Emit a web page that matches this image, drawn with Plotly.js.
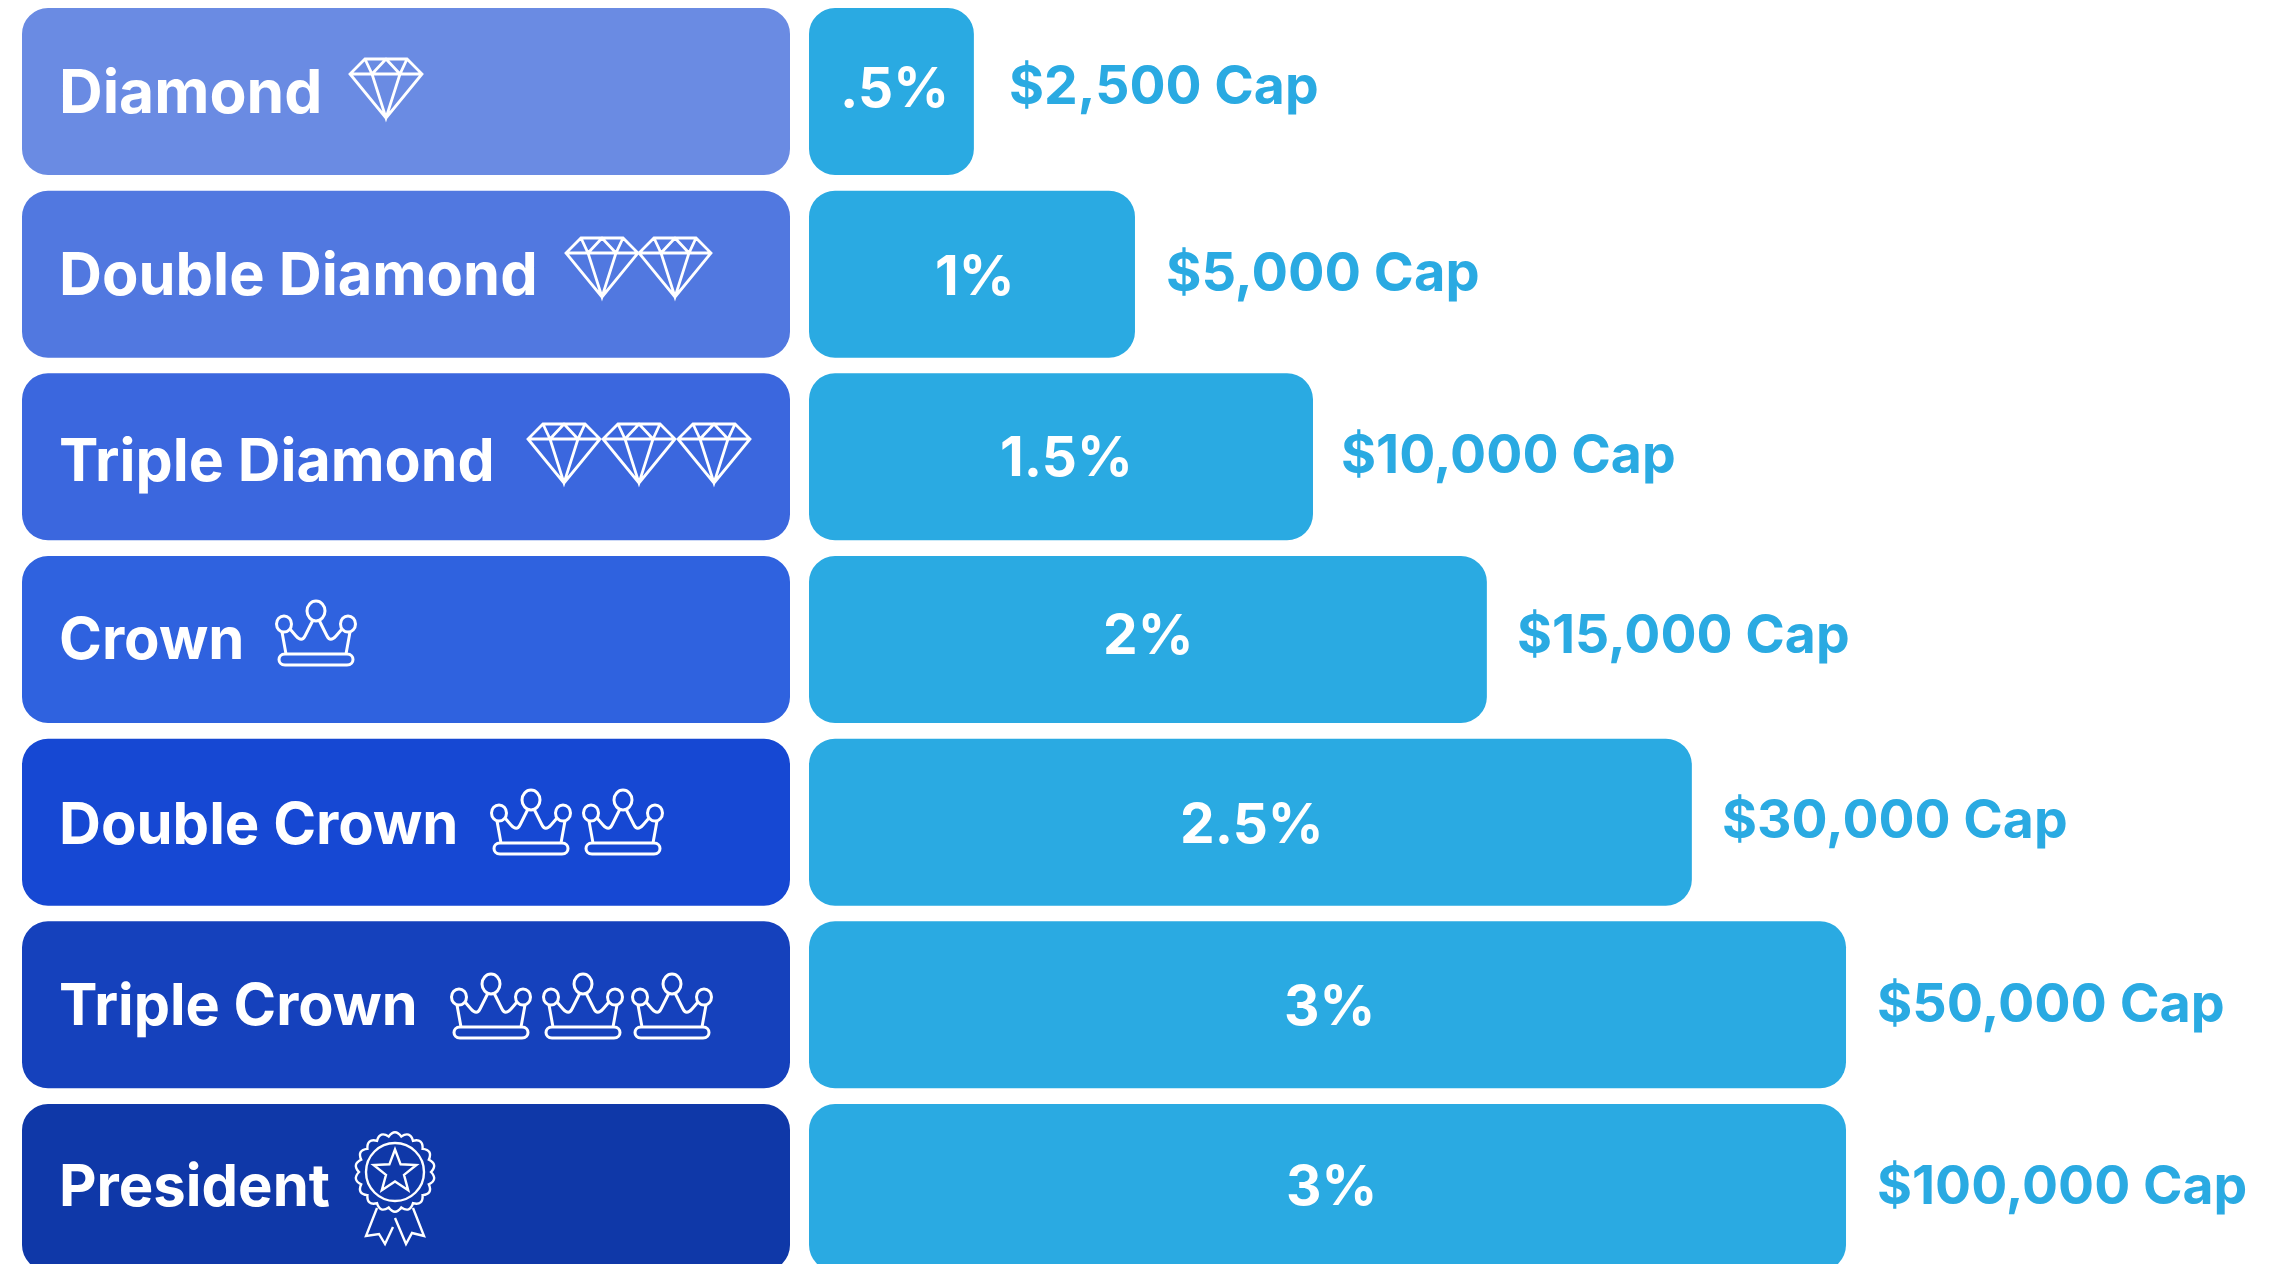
<!DOCTYPE html>
<html><head><meta charset="utf-8">
<script src="https://cdn.plot.ly/plotly-3.0.1.min.js"></script>
<style>html,body{margin:0;padding:0;background:#fff;overflow:hidden}#chart{width:2286px;height:1264px}</style>
</head><body><div id="chart"></div>
<script>
// ---------- data ----------
const tiers = ['Diamond','Double Diamond','Triple Diamond','Crown','Double Crown','Triple Crown','President'];
const rateLabels = ['.5%','1%','1.5%','2%','2.5%','3%','3%'];
const barLengths = [0.477,0.943,1.458,1.961,2.554,3,3];   // drawn length of each rate bar
const capLabels = ['$2,500 Cap','$5,000 Cap','$10,000 Cap','$15,000 Cap','$30,000 Cap','$50,000 Cap','$100,000 Cap'];
const tierColors = ['#6A8BE3','#5178E0','#3B67DE','#2F62DF','#1648D3','#1541BC','#0F38A8'];
const fullBar = [1,1,1,1,1,1,1];
const zeroBase = [0,0,0,0,0,0,0];

// ---------- style ----------
const W = 2286, H = 1264;
const rateColor = '#2AAAE2';
const FONT = 'Inter, "Noto Sans", sans-serif';
const labelSize  = [60.5,59.5,59,58,58,57.6,58];
const labelShift = [1,1.5,-2.5,2,-1,0.5,3];
const rateDx     = [3,3,6,1,2,2,4];
const rateShift  = [4.5,-0.5,1,5.5,-1,-0.5,3];
const capSize    = [53.5,54.2,53.6,53.5,53.5,53.9,53.5];
const capShift   = [7.5,3,3.5,6,3.5,2,3];
const capGap     = [33,29,26,28,28,29,29];

const px = v => v / W, py = v => 1 - v / H;

// ---------- icon drawing (pixel offsets, y up, relative to anchor) ----------
function circle(cx, cy, r, ry) {
  ry = ry || r;
  const k = 0.5523 * r, q = 0.5523 * ry;
  return `M${cx-r},${cy} C${cx-r},${cy+q} ${cx-k},${cy+ry} ${cx},${cy+ry} C${cx+k},${cy+ry} ${cx+r},${cy+q} ${cx+r},${cy} ` +
         `C${cx+r},${cy-q} ${cx+k},${cy-ry} ${cx},${cy-ry} C${cx-k},${cy-ry} ${cx-r},${cy-q} ${cx-r},${cy} Z `;
}
const diamondPath =
  'M-21,0 L21,0 L36,-15 L0,-59 L-36,-15 Z M-36,-15 L36,-15 M-21,0 L-14,-15 L0,0 L14,-15 L21,0 M-14,-15 L0,-59 L14,-15';
const crownPath =
  circle(0,54,9,10) + circle(-32,41,7.5,8) + circle(32,41,7.5,8) +
  'M-34,33 L-30,11 M34,33 L30,11 ' +
  'M-26,36 L-20,29 C-16,24.5 -13,25 -11,29 L-3,45 ' +
  'M26,36 L20,29 C16,24.5 13,25 11,29 L3,45 ' +
  'M-31,11 L31,11 C39,11 39,0 31,0 L-31,0 C-39,0 -39,11 -31,11 Z';
function rosettePath() {
  const lobes = 18, rIn = 36, rOut = 44;
  let d = '';
  for (let i = 0; i < lobes; i++) {
    const a0 = 2*Math.PI*i/lobes, a1 = 2*Math.PI*(i+1)/lobes, am = (a0+a1)/2;
    const p = (a, r) => `${(r*Math.cos(a)).toFixed(1)},${(r*Math.sin(a)).toFixed(1)}`;
    if (i === 0) d += 'M' + p(a0, rIn);
    d += ' Q' + p(am, rOut) + ' ' + p(a1, rIn);
  }
  d += ' Z ' + circle(0,0,29);
  let star = '';
  for (let i = 0; i < 10; i++) {
    const a = Math.PI/2 + i*Math.PI/5, r = i%2 ? 9.5 : 22.5;
    star += (i ? ' L' : 'M') + (r*Math.cos(a)).toFixed(1) + ',' + (r*Math.sin(a)).toFixed(1);
  }
  d += ' ' + star + ' Z';
  d += ' M-18,-36 L-29,-64 L-16,-62 L-10,-72 L-2,-55 M0,-46 L11,-72 L17,-61 L29,-64 L18,-36';
  return d;
}
const iconAt = (path, x, y, lw) => ({
  type:'path', xref:'paper', yref:'paper', xsizemode:'pixel', ysizemode:'pixel',
  xanchor:px(x), yanchor:py(y), path, line:{color:'#fff', width:lw}, fillcolor:'rgba(0,0,0,0)', layer:'above'
});
const shapes = [
  iconAt(diamondPath,386,59,2.8),
  iconAt(diamondPath,602,238,2.8), iconAt(diamondPath,675,238,2.8),
  iconAt(diamondPath,564,424,2.8), iconAt(diamondPath,639,424,2.8), iconAt(diamondPath,714,424,2.8),
  iconAt(crownPath,316,665,3),
  iconAt(crownPath,531,854,3), iconAt(crownPath,623,854,3),
  iconAt(crownPath,491,1038,3), iconAt(crownPath,583,1038,3), iconAt(crownPath,672,1038,3),
  iconAt(rosettePath(),395,1172,2.4)
];

// ---------- traces: an explicit base makes Plotly round all four corners ----------
const traces = [
  {type:'bar', orientation:'h', y:tiers, x:fullBar, base:zeroBase, xaxis:'x', yaxis:'y',
   marker:{color:tierColors, cornerradius:26, line:{width:0}}, hoverinfo:'skip', showlegend:false},
  {type:'bar', orientation:'h', y:tiers, x:barLengths, base:zeroBase, xaxis:'x2', yaxis:'y',
   marker:{color:rateColor, cornerradius:26, line:{width:0}}, hoverinfo:'skip', showlegend:false}
];

// ---------- annotations ----------
const annotations = [];
tiers.forEach((t,i) => {
  annotations.push({xref:'x', yref:'y', x:0, y:t, text:t, showarrow:false, xanchor:'left', yanchor:'middle',
    xshift:35, yshift:labelShift[i], font:{family:FONT, size:labelSize[i], weight:700, color:'#fff'}});
  annotations.push({xref:'x2', yref:'y', x:barLengths[i]/2, y:t, text:rateLabels[i], showarrow:false, xanchor:'center', yanchor:'middle',
    xshift:rateDx[i], yshift:rateShift[i], font:{family:FONT, size:55, weight:700, color:'#fff'}});
  annotations.push({xref:'x2', yref:'y', x:barLengths[i], y:t, text:capLabels[i], showarrow:false, xanchor:'left', yanchor:'middle',
    xshift:capGap[i], yshift:capShift[i], font:{family:FONT, size:capSize[i], weight:700, color:rateColor}});
});

const pitch = 182.67, first = 91.5;
const layout = {
  width:W, height:H, margin:{l:0,r:0,t:0,b:0}, paper_bgcolor:'#fff', plot_bgcolor:'#fff',
  showlegend:false, bargap:0.086, barmode:'overlay',
  xaxis:{domain:[22/W,790/W], range:[0,1], visible:false, fixedrange:true},
  xaxis2:{domain:[809/W,1], range:[0,1477/345.67], visible:false, fixedrange:true, anchor:'y'},
  yaxis:{type:'category', categoryorder:'array', categoryarray:tiers, visible:false, fixedrange:true,
         domain:[0,1], range:[(H-first)/pitch, -first/pitch]},
  shapes, annotations
};
Plotly.newPlot('chart', traces, layout, {displayModeBar:false, staticPlot:true});
</script></body></html>
